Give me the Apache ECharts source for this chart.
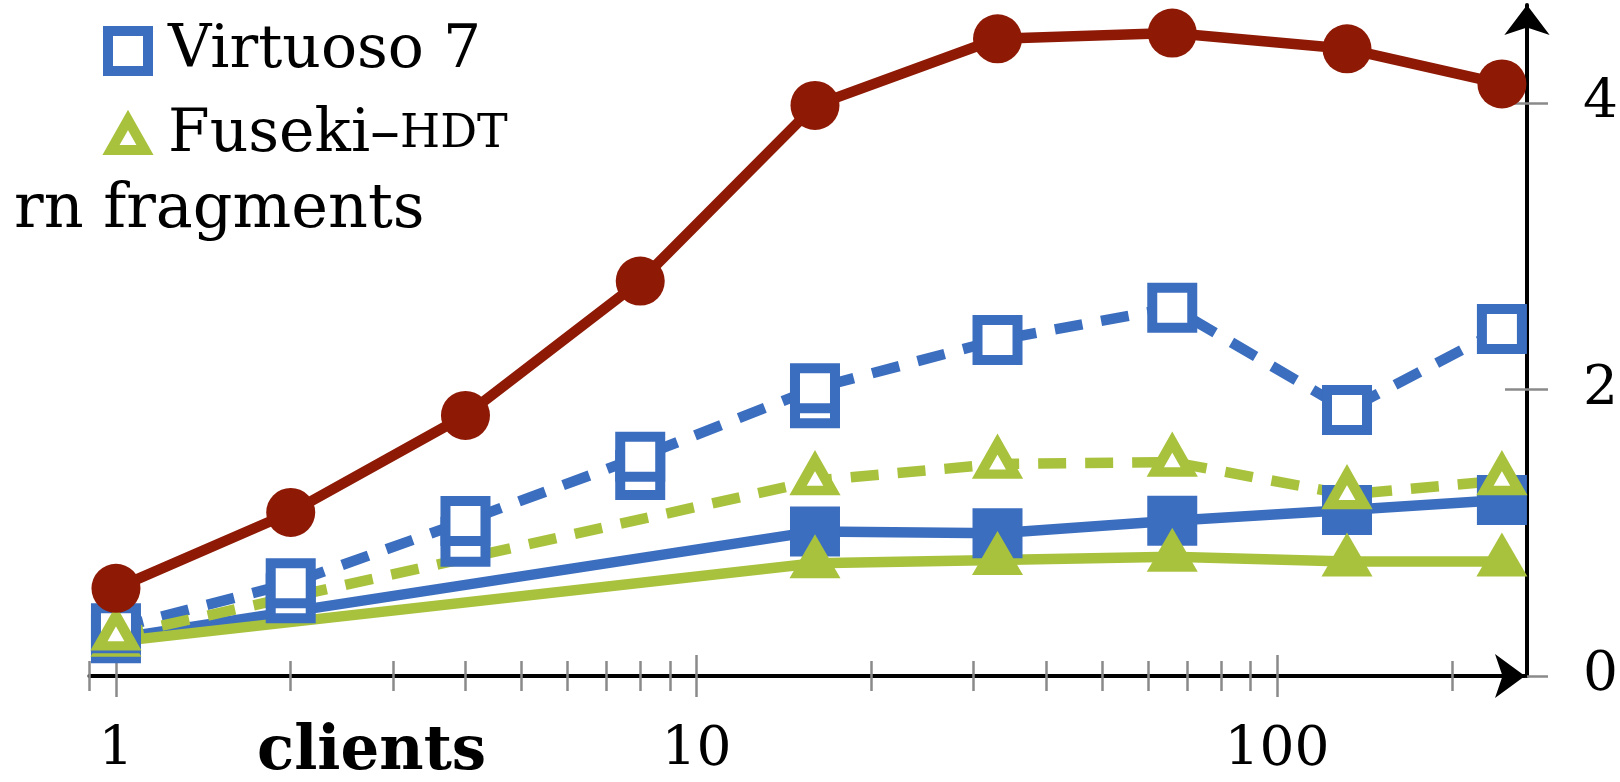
<!DOCTYPE html>
<html>
<head>
<meta charset="utf-8">
<script src="https://cdn.jsdelivr.net/npm/echarts@6/dist/echarts.min.js"></script>
<style>
html,body{margin:0;padding:0;background:#fff;}
#chart{width:1620px;height:782px;}
</style>
</head>
<body>
<div id="chart"></div>
<script>
// ---- data ----
const clients = [1, 2, 4, 8, 16, 33, 66, 132, 244];
const clientsSparse = [1, 16, 33, 66, 132, 244];
const clientsExtra = [2, 4, 8, 16];

const fragmentsValues = [0.612, 1.142, 1.82, 2.758, 3.985, 4.45, 4.49, 4.38, 4.135];
const virtuosoDashed = [0.333, 0.647, 1.082, 1.531, 2.009, 2.346, 2.572, 1.858, 2.423];
const virtuosoExtra = [0.543, 0.938, 1.404, 1.904];
const virtuosoSolid = [0.263, 1.010, 0.997, 1.084, 1.159, 1.229];
const fusekiDashed = [0.28, 1.365, 1.48, 1.494, 1.267, 1.365];
const fusekiSolid = [0.24, 0.787, 0.81, 0.833, 0.80, 0.80];

const xMajorTicks = [1, 10, 100];
const xMinorTicks = [0.9, 2, 3, 4, 5, 6, 7, 8, 9, 20, 30, 40, 50, 60, 70, 80, 90, 200];
const yTicks = [0, 2, 4];
const yInnerTicks = [2, 4];

// ---- styles ----
const RED = '#8e1a06';
const BLUE = '#3c6ebf';
const GREEN = '#a8c23e';
const FONT = 'DejaVu Serif';
const TICK = '#8a8a8a';
const TICK_W = 2.5;

const zip = (xs, ys) => xs.map((x, i) => [x, ys[i]]);

const X_MIN = 0.9, X_MAX = 267.4, Y_MIN = 0, Y_MAX = 4.686;
const gridBox = { left: 89.4, right: 95, top: 5, bottom: 106, outerBoundsMode: 'none' };

function xAxisBase(gridIndex) {
  return {
    type: 'log', logBase: 10, gridIndex: gridIndex, min: X_MIN, max: X_MAX,
    position: 'bottom',
    axisLine: { show: false, onZero: false },
    axisLabel: { show: false },
    splitLine: { show: false },
    minorTick: { show: false },
    minorSplitLine: { show: false },
    axisTick: { show: false }
  };
}
function yAxisBase(gridIndex) {
  return {
    type: 'value', gridIndex: gridIndex, min: Y_MIN, max: Y_MAX,
    position: 'right', offset: 2,
    axisLine: { show: false, onZero: false },
    axisLabel: { show: false },
    splitLine: { show: false },
    axisTick: { show: false }
  };
}

const xAxes = [];
// main x axis: line with arrow, major ticks outside, labels
const xa0 = xAxisBase(0);
xa0.axisLine = { show: true, onZero: false, lineStyle: { color: '#000', width: 4 },
  symbol: ['none', 'arrow'], symbolSize: [33, 30] };
xa0.axisTick = { show: true, inside: false, length: 21, customValues: xMajorTicks,
  lineStyle: { color: TICK, width: TICK_W } };
xa0.axisLabel = { show: true, customValues: xMajorTicks, margin: 47,
  formatter: v => String(Math.round(v)),
  fontFamily: FONT, fontSize: 55, color: '#000' };
xAxes.push(xa0);
// major ticks inside
const xa1 = xAxisBase(1);
xa1.axisTick = { show: true, inside: true, length: 21, customValues: xMajorTicks,
  lineStyle: { color: TICK, width: TICK_W } };
xAxes.push(xa1);
// minor ticks outside
const xa2 = xAxisBase(2);
xa2.axisTick = { show: true, inside: false, length: 15, customValues: xMinorTicks,
  lineStyle: { color: TICK, width: TICK_W } };
xAxes.push(xa2);
// minor ticks inside
const xa3 = xAxisBase(3);
xa3.axisTick = { show: true, inside: true, length: 15, customValues: xMinorTicks,
  lineStyle: { color: TICK, width: TICK_W } };
xAxes.push(xa3);

const yAxes = [];
const ya0 = yAxisBase(0);
ya0.axisLine = { show: true, onZero: false, lineStyle: { color: '#000', width: 4 },
  symbol: ['none', 'arrow'], symbolSize: [34, 30] };
ya0.axisTick = { show: true, inside: false, length: 21, customValues: yTicks,
  lineStyle: { color: TICK, width: TICK_W } };
ya0.axisLabel = { show: true, customValues: yTicks, margin: 56, padding: [14, 0, 0, 0],
  formatter: v => String(v), fontFamily: FONT, fontSize: 55, color: '#000' };
yAxes.push(ya0);
// y ticks crossing to the left of the axis
const ya1 = yAxisBase(1);
ya1.axisTick = { show: true, inside: true, length: 22, customValues: yInnerTicks,
  lineStyle: { color: TICK, width: TICK_W } };
yAxes.push(ya1);
const ya2 = yAxisBase(2); ya2.show = false; yAxes.push(ya2);
const ya3 = yAxisBase(3); ya3.show = false; yAxes.push(ya3);

const openSquare = { color: '#ffffff', borderColor: BLUE, borderWidth: 10, borderJoin: 'miter' };
const openTriangle = { color: '#ffffff', borderColor: GREEN, borderWidth: 10, borderJoin: 'miter', borderMiterLimit: 10 };
const DASH = [28, 19];
const LW = 10.5;

const series = [
  { name: 'Virtuoso 7 (total)', type: 'line', data: zip(clientsSparse, virtuosoSolid),
    symbol: 'rect', symbolSize: 50, itemStyle: { color: BLUE }, lineStyle: { color: BLUE, width: LW } },
  { name: 'Fuseki–HDT (total)', type: 'line', data: zip(clientsSparse, fusekiSolid),
    symbol: 'triangle', symbolSize: [51, 44], symbolOffset: [0, -7],
    itemStyle: { color: GREEN }, lineStyle: { color: GREEN, width: LW } },
  { name: 'Virtuoso 7 (repeat)', type: 'line', data: zip(clientsExtra, virtuosoExtra),
    symbol: 'rect', symbolSize: 40, itemStyle: openSquare, lineStyle: { color: BLUE, width: 0, opacity: 0 } },
  { name: 'Virtuoso 7', type: 'line', data: zip(clients, virtuosoDashed),
    symbol: 'rect', symbolSize: 40, itemStyle: openSquare, lineStyle: { color: BLUE, width: LW, type: DASH } },
  { name: 'Fuseki–HDT', type: 'line', data: zip(clientsSparse, fusekiDashed),
    symbol: 'triangle', symbolSize: [34, 30], symbolOffset: [0, -5],
    itemStyle: openTriangle, lineStyle: { color: GREEN, width: LW, type: DASH } },
  { name: 'Triple pattern fragments', type: 'line', data: zip(clients, fragmentsValues),
    symbol: 'circle', symbolSize: 49, itemStyle: { color: RED }, lineStyle: { color: RED, width: LW } }
];
series.forEach(s => { s.xAxisIndex = 0; s.yAxisIndex = 0; s.showAllSymbol = true; s.animation = false; s.silent = true; s.clip = false; });

const triIcon = 'path://M0,0 L0,0 M20,5 L37,35 L3,35 Z M40,40 L40,40';

const option = {
  animation: false,
  backgroundColor: '#ffffff',
  grid: [Object.assign({}, gridBox), Object.assign({}, gridBox), Object.assign({}, gridBox), Object.assign({}, gridBox)],
  xAxis: xAxes,
  yAxis: yAxes,
  legend: {
    orient: 'vertical', left: 103, top: 21, padding: 0,
    itemWidth: 40, itemHeight: 40, itemGap: 24,
    selectedMode: false,
    data: [
      { name: 'Virtuoso 7', icon: 'rect', itemStyle: { color: '#ffffff', borderColor: BLUE, borderWidth: 10, borderJoin: 'miter' } },
      { name: 'Fuseki–HDT', icon: triIcon, itemStyle: { color: '#ffffff', borderColor: GREEN, borderWidth: 10, borderJoin: 'miter', borderMiterLimit: 10 } }
    ],
    formatter: function (name) {
      if (name === 'Fuseki–HDT') return '{n|Fuseki–}{s|HDT}';
      return '{n|' + name + '}';
    },
    textStyle: {
      padding: [0, 0, 0, 15],
      lineHeight: 40,
      rich: {
        n: { fontFamily: FONT, fontSize: 60, color: '#000', lineHeight: 40 },
        s: { fontFamily: FONT, fontSize: 46, color: '#000', lineHeight: 40 }
      }
    }
  },
  graphic: [
    { type: 'text', left: 14, top: 180, silent: true,
      style: { text: 'rn fragments', fontFamily: FONT, fontSize: 62, fill: '#000' } },
    { type: 'text', left: 257, top: 723, silent: true,
      style: { text: 'clients', fontFamily: FONT, fontSize: 61, fontWeight: 'bold', fill: '#000' } }
  ],
  series: series
};

const chart = echarts.init(document.getElementById('chart'), null, { renderer: 'canvas' });
chart.setOption(option);
</script>
</body>
</html>
